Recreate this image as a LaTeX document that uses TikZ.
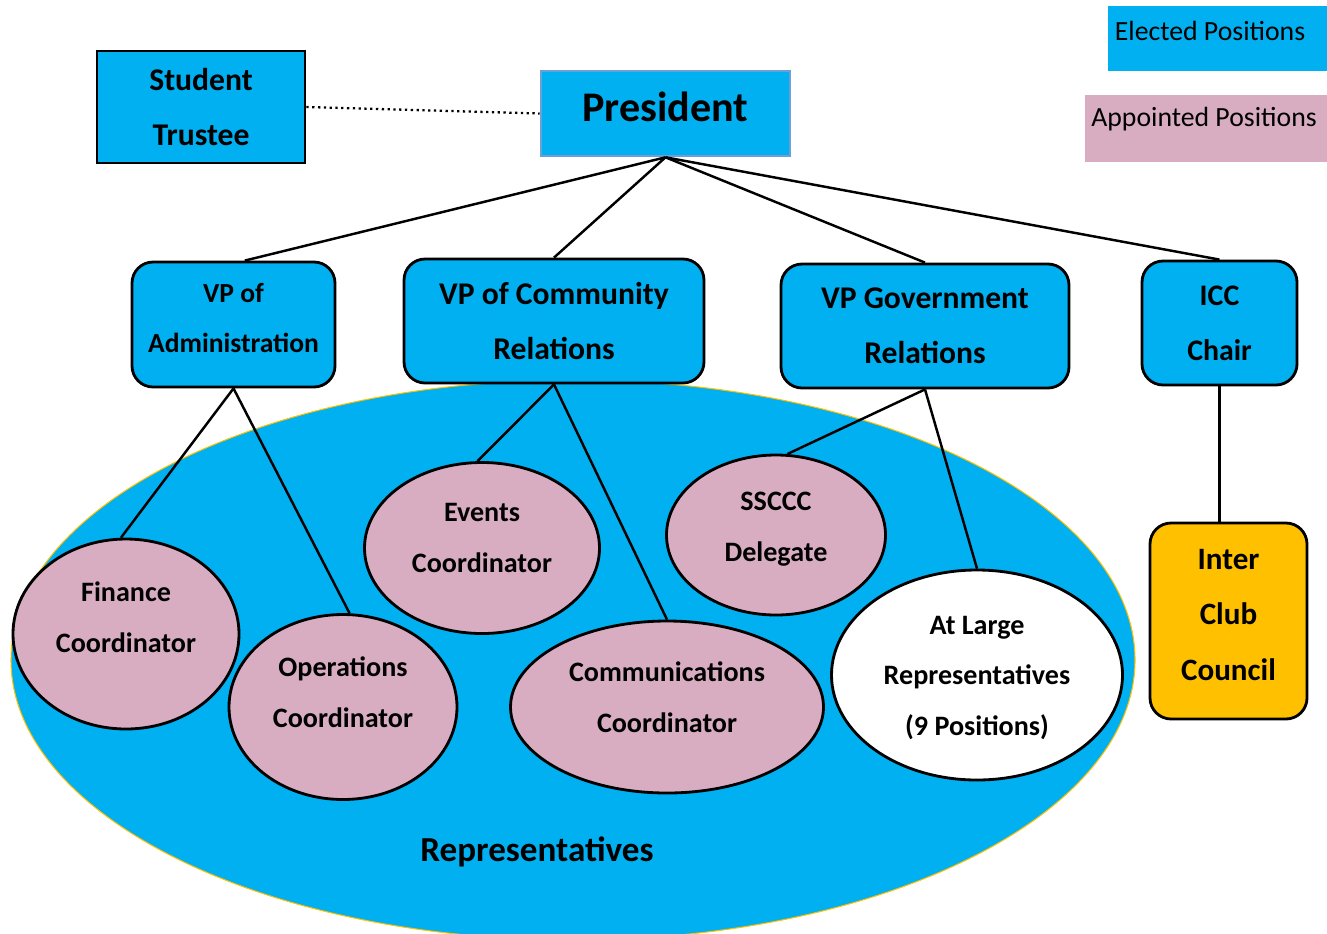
\documentclass[tikz,border=0pt]{standalone}
\usepackage{fontspec}
\setmainfont{Carlito}
\usetikzlibrary{shapes.geometric}
\definecolor{elected}{HTML}{00B0F0}
\definecolor{appointed}{HTML}{D8ADC1}
\definecolor{council}{HTML}{FFC000}
\definecolor{presedge}{HTML}{6A9FD8}

\begin{document}
\begin{tikzpicture}
% one unit = one pixel of the sketch
[
  x=0.02cm, y=-0.02cm,
  dims/.style 2 args={minimum width=#1*0.02cm, minimum height=#2*0.02cm, inner sep=0pt},
  post/.style={draw=black, line width=1.6pt, fill=elected, align=center,
    font=\bfseries\fontsize{18}{31.5}\selectfont},
  vp/.style={post, rounded corners=12pt},
  rep/.style={ellipse, draw=black, line width=1.6pt, fill=appointed},
  reptext/.style={align=center, inner sep=0pt, font=\bfseries\fontsize{16}{29}\selectfont},
  key/.style={font=\fontsize{15.8}{18}\selectfont},
  link/.style={line width=1.4pt}
]
\useasboundingbox (0,0) rectangle (1327,933);

% legend
\node[key, dims={219}{65}, fill=elected] (elect) at (1217.5,38.5) {};
\node[key] (electtext) at (1210,31) {Elected Positions};
\node[key, dims={242}{67}, fill=appointed] (appoint) at (1206,128.5) {};
\node[key] (appointtext) at (1204,119) {Appointed Positions};

% representatives
\node[ellipse, dims={1124}{560}, fill=elected, draw=council, line width=0.6pt] (reps) at (573,660) {};
\node[font=\bfseries\fontsize{20}{22}\selectfont] (repsname) at (537,852) {Representatives};

% top
\node[post, dims={208}{112}] (trustee) at (201,107) {Student\\Trustee};
\node[post, draw=presedge, line width=1.5pt, dims={249}{85}] (pres) at (665.5,113.5) {};
\node[font=\bfseries\fontsize{24}{26}\selectfont] (prestext) at (665.5,107) {President};

% vps
\node[vp, dims={203}{125}] (vpadm) at (233.5,324.5) {};
\node[align=center, font=\bfseries\fontsize{15.7}{29}\selectfont] (vpadmtext) at (233.5,318) {VP of\\Administration};
\node[vp, dims={300}{124}] (vpcom) at (554,321) {VP of Community\\Relations};
\node[vp, dims={288}{124}] (vpgov) at (925,326) {VP Government\\Relations};
\node[vp, dims={155}{124}, font=\bfseries\fontsize{17}{31.5}\selectfont] (icc) at (1219.5,323) {ICC\\Chair};
\node[vp, dims={157}{196}, fill=council] (council) at (1228.5,621) {};
\node[align=center, font=\bfseries\fontsize{17.7}{31.5}\selectfont] (counciltext) at (1228.5,615) {Inter\\Club\\Council};

% appointed
\node[rep, dims={226}{190}] (finance) at (126,634) {};
\node[reptext] (financetext) at (126,617) {Finance\\Coordinator};
\node[rep, dims={228}{185}] (ops) at (343,707) {};
\node[reptext] (opstext) at (343,692) {Operations\\Coordinator};
\node[rep, dims={235}{171}] (events) at (482,548) {};
\node[reptext] (eventstext) at (482,538) {Events\\Coordinator};
\node[rep, dims={313}{172}] (comms) at (667,707) {};
\node[reptext] (commstext) at (667,697) {Communications\\Coordinator};
\node[rep, dims={219}{160}] (ssccc) at (776,535) {};
\node[reptext] (sscccstext) at (776,529) {SSCCC\\Delegate};
\node[rep, dims={291}{210}, fill=white] (atlarge) at (977,675) {};
\node[reptext] (atlargetext) at (977,678) {At Large\\Representatives\\(9 Positions)};

% links
\draw[line width=1.3pt, dotted] (trustee.east) -- (pres.west);
\draw[link] (pres.south) -- (vpadm.80);
\draw[link] (pres.south) -- (vpcom.north);
\draw[link] (pres.south) -- (vpgov.north);
\draw[link] (pres.south) -- (icc.north);
\draw[link] (icc.south) -- (icc.south |- council.north);
\draw[link] (vpadm.south) -- (finance.93);
\draw[link] (vpadm.south) -- (ops.86);
\draw[link] (vpcom.south) -- (events.93);
\draw[link] (vpcom.south) -- (comms.north);
\draw[link] (vpgov.south) -- (ssccc.82);
\draw[link] (vpgov.south) -- (atlarge.north);
\end{tikzpicture}
\end{document}
